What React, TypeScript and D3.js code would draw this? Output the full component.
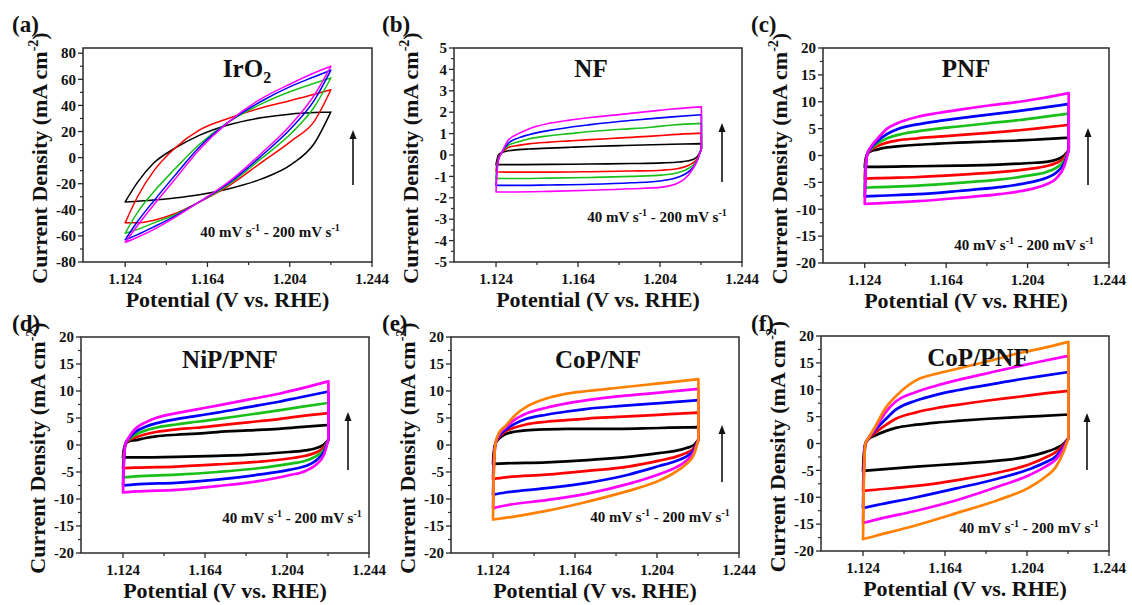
import React from 'react';
import * as d3 from 'd3';

const FONT = 'Liberation Serif, Times New Roman, Times, serif';

// series colours (scan rates 40 -> 200 mV/s)
const COLORS_GREEN_SET = ['#000000', '#ff0000', '#19c019', '#0000ff', '#ff00ff'];
const COLORS_ORANGE_SET = ['#000000', '#ff0000', '#0000ff', '#ff00ff', '#ff8000'];

const X_DOMAIN = [1.1035, 1.244];
const X_TICKS = [1.124, 1.164, 1.204, 1.244];
const X_MINOR_TICKS = [1.144, 1.184, 1.224];

const TICKS_IRO2 = [-80, -60, -40, -20, 0, 20, 40, 60, 80];
const MINOR_IRO2 = [-70, -50, -30, -10, 10, 30, 50, 70];
const TICKS_NF = [-5, -4, -3, -2, -1, 0, 1, 2, 3, 4, 5];
const MINOR_NF = [-4.5, -3.5, -2.5, -1.5, -0.5, 0.5, 1.5, 2.5, 3.5, 4.5];
const TICKS_20 = [-20, -15, -10, -5, 0, 5, 10, 15, 20];
const MINOR_20 = [-17.5, -12.5, -7.5, -2.5, 2.5, 7.5, 12.5, 17.5];

// ---------- (a) IrO2 : lens-shaped loops ----------
const LENS_E = [1.124, 1.13, 1.138, 1.148, 1.16, 1.174, 1.19, 1.205, 1.216, 1.224];
const IRO2_UPPER = [
  [-34, -19, -4, 7, 17, 25, 30.5, 33.5, 34.5, 35],
  [-50, -30, -10, 7, 21, 30, 38, 44, 48.5, 52],
  [-58, -42, -26, -9, 10, 27, 41, 51, 57, 61],
  [-63, -49, -33, -14, 8, 27, 43, 55, 62, 67],
  [-65, -52, -36, -17, 6, 27, 45, 57, 65, 70],
];
const IRO2_LOWER = [
  [-34, -33.5, -32.5, -31, -28.5, -24, -16.5, -5, 11, 35],
  [-50, -50, -48, -43, -34, -22, -4, 13, 28, 52],
  [-58, -55, -50, -44, -34, -21, -1, 19, 39, 61],
  [-63, -59, -53, -45, -34, -20, 1, 23, 44, 67],
  [-65, -61, -55, -46, -34, -19, 3, 26, 48, 70],
];

// ---------- (b)-(f) : rectangular loops ----------
const RECT_UP_E = [1.1243, 1.1252, 1.127, 1.13, 1.135, 1.14, 1.15, 1.16, 1.17, 1.185, 1.2, 1.21, 1.2242];
const RECT_LOW_E = [1.124, 1.13, 1.15, 1.17, 1.19, 1.205, 1.213, 1.218, 1.222, 1.2242];

const NF_UPPER = [
  [-0.3, 0.0, 0.12, 0.2, 0.25, 0.28, 0.32, 0.36, 0.4, 0.44, 0.48, 0.5, 0.53],
  [-0.5, -0.1, 0.12, 0.35, 0.45, 0.52, 0.6, 0.66, 0.72, 0.8, 0.88, 0.95, 1.02],
  [-0.7, -0.15, 0.14, 0.45, 0.62, 0.75, 0.9, 1.0, 1.1, 1.2, 1.3, 1.4, 1.48],
  [-0.9, -0.2, 0.15, 0.55, 0.8, 0.95, 1.15, 1.3, 1.42, 1.58, 1.7, 1.78, 1.88],
  [-1.1, -0.25, 0.15, 0.7, 1.0, 1.22, 1.48, 1.63, 1.75, 1.9, 2.05, 2.15, 2.25],
];
const NF_LOWER = [
  [-0.45, -0.45, -0.44, -0.42, -0.4, -0.37, -0.33, -0.27, -0.1, 0.3],
  [-0.78, -0.8, -0.8, -0.78, -0.75, -0.71, -0.63, -0.48, -0.2, 0.3],
  [-1.1, -1.1, -1.08, -1.05, -1.0, -0.94, -0.82, -0.62, -0.25, 0.3],
  [-1.42, -1.42, -1.4, -1.37, -1.3, -1.2, -1.03, -0.78, -0.3, 0.3],
  [-1.73, -1.73, -1.7, -1.65, -1.58, -1.5, -1.3, -0.92, -0.3, 0.3],
];

const PNF_UPPER = [
  [-1.0, 0.2, 0.8, 1.1, 1.5, 1.7, 2.0, 2.2, 2.4, 2.6, 2.8, 3.0, 3.3],
  [-2.0, 0.2, 1.0, 1.7, 2.4, 2.8, 3.2, 3.5, 3.8, 4.2, 4.7, 5.1, 5.7],
  [-3.0, 0.2, 1.2, 2.2, 3.2, 3.8, 4.5, 5.0, 5.4, 6.0, 6.6, 7.1, 7.8],
  [-4.0, 0.2, 1.4, 2.6, 4.0, 4.9, 5.8, 6.4, 6.9, 7.6, 8.3, 8.8, 9.6],
  [-4.5, 0.2, 1.6, 3.0, 5.0, 6.0, 7.2, 7.9, 8.5, 9.3, 10.0, 10.6, 11.6],
];
const PNF_LOWER = [
  [-2.1, -2.1, -2.0, -1.9, -1.7, -1.4, -1.2, -0.8, 0.0, 1.0],
  [-4.3, -4.2, -4.0, -3.6, -3.1, -2.5, -2.0, -1.4, -0.4, 1.0],
  [-6.0, -5.9, -5.6, -5.1, -4.5, -3.7, -3.1, -2.3, -0.9, 1.0],
  [-7.6, -7.5, -7.2, -6.6, -5.9, -5.0, -4.2, -3.2, -1.4, 1.0],
  [-9.0, -8.9, -8.5, -7.9, -7.2, -6.3, -5.4, -4.3, -2.0, 1.0],
];

const NIP_UPPER = [
  [-1.0, 0.2, 0.7, 0.9, 1.3, 1.6, 1.9, 2.1, 2.4, 2.7, 3.0, 3.3, 3.7],
  [-2.0, 0.2, 0.9, 1.4, 2.0, 2.4, 2.9, 3.2, 3.6, 4.2, 4.8, 5.3, 5.9],
  [-3.0, 0.2, 1.1, 1.9, 2.7, 3.2, 3.8, 4.3, 4.8, 5.6, 6.4, 7.0, 7.8],
  [-3.8, 0.2, 1.3, 2.4, 3.4, 4.0, 4.8, 5.4, 6.0, 7.0, 8.0, 8.8, 9.9],
  [-4.4, 0.2, 1.5, 3.0, 4.2, 5.0, 5.9, 6.6, 7.3, 8.4, 9.5, 10.4, 11.8],
];
const NIP_LOWER = [
  [-2.3, -2.3, -2.2, -2.0, -1.7, -1.3, -1.0, -0.6, 0.1, 1.0],
  [-4.3, -4.2, -4.0, -3.6, -3.1, -2.5, -2.0, -1.4, -0.4, 1.0],
  [-6.0, -5.8, -5.5, -5.0, -4.3, -3.5, -2.9, -2.1, -0.8, 1.0],
  [-7.5, -7.3, -7.0, -6.4, -5.5, -4.6, -3.9, -2.9, -1.2, 1.0],
  [-8.8, -8.6, -8.3, -7.6, -6.7, -5.6, -4.8, -3.7, -1.8, 1.0],
];

const COPNF_UPPER = [
  [-1.5, 0.3, 1.2, 2.0, 2.5, 2.7, 2.9, 3.0, 3.0, 3.0, 3.1, 3.2, 3.3],
  [-3.0, 0.3, 1.5, 2.5, 3.3, 3.8, 4.3, 4.6, 4.9, 5.2, 5.5, 5.7, 6.0],
  [-4.5, 0.3, 1.7, 2.8, 4.0, 4.8, 5.6, 6.2, 6.7, 7.2, 7.6, 7.9, 8.3],
  [-5.5, 0.3, 2.0, 3.2, 4.8, 5.8, 6.9, 7.7, 8.3, 9.0, 9.5, 9.9, 10.4],
  [-6.5, 0.3, 2.3, 3.5, 5.6, 7.0, 8.6, 9.5, 10.0, 10.6, 11.2, 11.6, 12.2],
];
const COPNF_LOWER = [
  [-3.5, -3.4, -3.2, -2.8, -2.2, -1.5, -1.1, -0.6, 0.0, 1.0],
  [-6.3, -6.0, -5.5, -4.8, -4.0, -2.9, -2.2, -1.5, -0.6, 1.0],
  [-9.2, -8.8, -8.0, -7.0, -5.5, -3.9, -3.0, -2.2, -0.9, 1.0],
  [-11.7, -11.2, -10.2, -9.0, -7.2, -5.4, -4.2, -3.0, -1.3, 1.0],
  [-13.8, -13.5, -12.2, -10.5, -8.5, -6.6, -5.0, -3.6, -1.8, 1.0],
];

const COPPNF_UPPER = [
  [-2.5, 0.0, 0.9, 1.5, 2.3, 2.9, 3.5, 3.9, 4.2, 4.6, 4.9, 5.1, 5.4],
  [-4.5, 0.0, 1.0, 2.0, 3.4, 4.6, 5.8, 6.6, 7.2, 8.0, 8.7, 9.2, 9.8],
  [-6.0, 0.0, 1.1, 2.5, 4.5, 6.3, 8.0, 9.1, 9.9, 10.9, 11.9, 12.5, 13.3],
  [-7.5, 0.0, 1.2, 2.8, 5.8, 7.8, 9.6, 10.8, 11.8, 13.1, 14.4, 15.2, 16.3],
  [-9.0, 0.0, 1.2, 3.2, 6.6, 8.8, 11.8, 13.0, 13.9, 15.3, 16.8, 17.6, 18.9],
];
const COPPNF_LOWER = [
  [-5.1, -4.9, -4.3, -3.8, -3.2, -2.4, -1.6, -0.9, 0.0, 1.0],
  [-8.8, -8.6, -7.9, -6.8, -5.4, -3.9, -2.6, -1.6, -0.2, 1.0],
  [-12.0, -11.5, -10.0, -8.3, -6.5, -4.8, -3.5, -2.4, -0.5, 1.0],
  [-14.8, -14.2, -12.5, -10.5, -8.0, -5.9, -4.3, -3.0, -0.8, 1.0],
  [-17.8, -17.2, -15.2, -12.9, -10.5, -8.2, -6.2, -4.4, -1.4, 1.0],
];

const PANEL_LABELS = ['(a)', '(b)', '(c)', '(d)', '(e)', '(f)'];
const PANEL_TITLES = ['IrO', 'NF', 'PNF', 'NiP/PNF', 'CoP/NF', 'CoP/PNF'];

type Panel = {
  kind: 'lens' | 'rect';
  yDomain: number[];
  yTicks: number[];
  yMinor: number[];
  colors: string[];
  upper: number[][];
  lower: number[][];
  width: number;
};

const PANELS: Panel[] = [
  { kind: 'lens', yDomain: [-80, 84], yTicks: TICKS_IRO2, yMinor: MINOR_IRO2, colors: COLORS_GREEN_SET, upper: IRO2_UPPER, lower: IRO2_LOWER, width: 1.5 },
  { kind: 'rect', yDomain: [-5, 5], yTicks: TICKS_NF, yMinor: MINOR_NF, colors: COLORS_GREEN_SET, upper: NF_UPPER, lower: NF_LOWER, width: 1.6 },
  { kind: 'rect', yDomain: [-20, 20], yTicks: TICKS_20, yMinor: MINOR_20, colors: COLORS_GREEN_SET, upper: PNF_UPPER, lower: PNF_LOWER, width: 2.7 },
  { kind: 'rect', yDomain: [-20, 20], yTicks: TICKS_20, yMinor: MINOR_20, colors: COLORS_GREEN_SET, upper: NIP_UPPER, lower: NIP_LOWER, width: 2.7 },
  { kind: 'rect', yDomain: [-20, 20], yTicks: TICKS_20, yMinor: MINOR_20, colors: COLORS_ORANGE_SET, upper: COPNF_UPPER, lower: COPNF_LOWER, width: 2.7 },
  { kind: 'rect', yDomain: [-20, 20], yTicks: TICKS_20, yMinor: MINOR_20, colors: COLORS_ORANGE_SET, upper: COPPNF_UPPER, lower: COPPNF_LOWER, width: 2.7 },
];

// layout: frame box [x, y, w, h], panel letter, title, note, arrow [x, yBottom, yTip]
const LAYOUT = [
  { box: [83, 48, 289, 214], label: [12, 32], title: [247, 77], note: [270, 237], arrow: [353, 185, 130] },
  { box: [454, 48, 288, 214], label: [382, 32], title: [591, 77], note: [657, 222], arrow: [722, 182, 123] },
  { box: [823, 48, 286, 215], label: [751, 32], title: [966, 77], note: [1024, 250], arrow: [1088, 185, 128] },
  { box: [81, 337, 288, 216], label: [12, 331], title: [230, 368], note: [292, 523], arrow: [348, 470, 412] },
  { box: [451, 337, 288, 216], label: [382, 331], title: [598, 368], note: [660, 522], arrow: [722, 482, 425] },
  { box: [821, 336, 288, 215], label: [751, 331], title: [978, 366], note: [1029, 533], arrow: [1087, 470, 413] },
];

function PanelView({ p, lay, idx }: { p: Panel; lay: any; idx: number }) {
  const [bx, by, bw, bh] = lay.box;
  const x = d3.scaleLinear().domain(X_DOMAIN).range([bx, bx + bw]);
  const y = d3.scaleLinear().domain(p.yDomain).range([by + bh, by]);
  const smooth = d3
    .line<number[]>()
    .x((d) => x(d[0]))
    .y((d) => y(d[1]))
    .curve(d3.curveMonotoneX);
  const straight = d3
    .line<number[]>()
    .x((d) => x(d[0]))
    .y((d) => y(d[1]));

  const paths = p.upper.map((up, k) => {
    const low = p.lower[k];
    if (p.kind === 'lens') {
      const u = LENS_E.map((e, j) => [e, up[j]]);
      const l = LENS_E.map((e, j) => [e, low[j]]);
      return (smooth(u) || '') + (smooth(l) || '');
    }
    const u = [[RECT_LOW_E[0], low[0]], ...RECT_UP_E.map((e, j) => [e, up[j]])];
    const l = RECT_LOW_E.map((e, j) => [e, low[j]]);
    const c = [
      [RECT_UP_E[RECT_UP_E.length - 1], up[up.length - 1]],
      [RECT_LOW_E[RECT_LOW_E.length - 1], low[low.length - 1]],
    ];
    return (smooth(u) || '') + (straight(c) || '') + (smooth(l) || '');
  });

  const bottom = by + bh;
  const [ax, ay0, ay1] = lay.arrow;
  const axisColor = '#2a2a2a';
  const ts = { fontFamily: FONT, fontWeight: 'bold' as const };

  return (
    <g>
      <g fill="none" strokeLinejoin="round" strokeLinecap="round">
        {paths.map((d, k) => (
          <path key={k} d={d} stroke={p.colors[k]} strokeWidth={p.width} />
        ))}
      </g>
      <rect x={bx} y={by} width={bw} height={bh} fill="none" stroke={axisColor} strokeWidth={1.5} />
      {p.yTicks.map((t) => (
        <g key={'y' + t}>
          <line x1={bx - 5} x2={bx} y1={y(t)} y2={y(t)} stroke={axisColor} strokeWidth={1.3} />
          <text x={bx - 7} y={y(t)} dy="0.35em" textAnchor="end" fontSize={15} style={ts} fill="#111">
            {t}
          </text>
        </g>
      ))}
      {p.yMinor.map((t) => (
        <line key={'ym' + t} x1={bx - 3} x2={bx} y1={y(t)} y2={y(t)} stroke={axisColor} strokeWidth={1.2} />
      ))}
      {X_TICKS.map((t) => (
        <g key={'x' + t}>
          <line x1={x(t)} x2={x(t)} y1={bottom} y2={bottom + 5} stroke={axisColor} strokeWidth={1.3} />
          <text x={x(t)} y={bottom + 22} textAnchor="middle" fontSize={15} style={ts} fill="#111">
            {t.toFixed(3)}
          </text>
        </g>
      ))}
      {X_MINOR_TICKS.map((t) => (
        <line key={'xm' + t} x1={x(t)} x2={x(t)} y1={bottom} y2={bottom + 3} stroke={axisColor} strokeWidth={1.2} />
      ))}
      <text x={bx + bw / 2} y={bottom + 45} textAnchor="middle" fontSize={22} style={ts} fill="#111">
        Potential (V vs. RHE)
      </text>
      <text
        transform={`translate(${bx - 36},${by + bh / 2 + 3}) rotate(-90)`}
        textAnchor="middle"
        fontSize={22}
        style={ts}
        fill="#111"
      >
        {'Current Density (mA cm'}
        <tspan fontSize={14} dy={-9}>
          {'-2'}
        </tspan>
        <tspan dy={9}>{')'}</tspan>
      </text>
      <text x={lay.label[0]} y={lay.label[1]} fontSize={23} style={ts} fill="#111">
        {PANEL_LABELS[idx]}
      </text>
      <text x={lay.title[0]} y={lay.title[1]} textAnchor="middle" fontSize={25} style={ts} fill="#111">
        {PANEL_TITLES[idx]}
        {idx === 0 ? (
          <tspan fontSize={16} dy={6}>
            2
          </tspan>
        ) : null}
      </text>
      <text x={lay.note[0]} y={lay.note[1]} textAnchor="middle" fontSize={15} style={ts} fill="#111">
        {'40 mV s'}
        <tspan fontSize={10} dy={-6}>
          {'-1'}
        </tspan>
        <tspan dy={6}>{' - 200 mV s'}</tspan>
        <tspan fontSize={10} dy={-6}>
          {'-1'}
        </tspan>
      </text>
      <line x1={ax} x2={ax} y1={ay0} y2={ay1 + 6} stroke="#111" strokeWidth={1.6} />
      <polygon points={`${ax},${ay1} ${ax - 3.5},${ay1 + 9} ${ax + 3.5},${ay1 + 9}`} fill="#111" />
    </g>
  );
}

export default function App() {
  return (
    <svg width={1132} height={605} style={{ position: 'absolute', left: 0, top: 0, display: 'block' }}>
      <rect width={1132} height={605} fill="#ffffff" />
      {PANELS.map((p, i) => (
        <PanelView key={i} p={p} lay={LAYOUT[i]} idx={i} />
      ))}
    </svg>
  );
}
